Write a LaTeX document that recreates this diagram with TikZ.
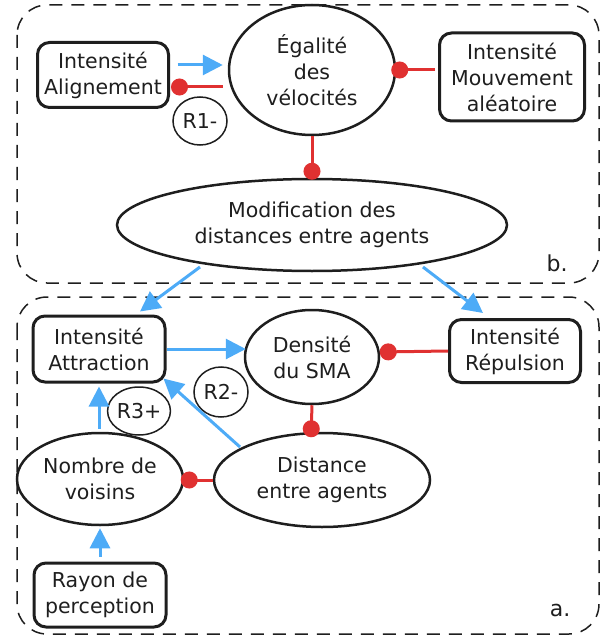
\documentclass[tikz,border=0pt]{standalone}
\usepackage{fontspec}
\setmainfont{DejaVu Sans}
\usetikzlibrary{shapes.geometric,arrows.meta,calc}
\definecolor{ink}{HTML}{1E1E1E}
\definecolor{cblue}{HTML}{4DABF7}
\definecolor{cred}{HTML}{E03131}
\begin{document}
\begin{tikzpicture}[x=1pt,y=-1pt,
 every node/.style={text=ink, font=\fontsize{20.5}{26}\selectfont, align=center, inner sep=0pt},
 rbox/.style={draw=ink, line width=3pt, rounded corners=12pt, rectangle},
 ell/.style={draw=ink, line width=2.5pt, ellipse},
 loopc/.style={draw=ink, line width=1.5pt, ellipse},
 barrow/.style={cblue, line width=3pt, -{Triangle[length=20pt,width=20pt]}},
 rdot/.style={cred, line width=3pt, -{Circle[length=17pt]}},
 frame/.style={draw=ink, line width=1.5pt, dash pattern=on 13pt off 9pt, rounded corners=30pt}]
\useasboundingbox (0,0) rectangle (608,639);

% frames
\draw[frame] (17,5) rectangle (599,283);
\draw[frame] (17,297) rectangle (599,634);
\node[font=\fontsize{22}{26}\selectfont] (lb) at (557,263) {b.};
\node[font=\fontsize{22}{26}\selectfont] (la) at (560,610) {a.};

% upper part
\node[rbox, minimum width=131pt, minimum height=65pt] (align) at (103,75) {Intensité\\Alignement};
\node[ell, minimum width=166pt, minimum height=130pt] (egal) at (312,70) {Égalité\\des\\vélocités};
\node[rbox, minimum width=145pt, minimum height=88pt] (mouv) at (512,77) {Intensité\\Mouvement\\aléatoire};
\node[loopc, minimum width=54pt, minimum height=48pt] (r1) at (200,121) {R1-};
\node[ell, minimum width=390pt, minimum height=92pt] (modif) at (312,225) {Modification des\\distances entre agents};

% lower part
\node[rbox, minimum width=132pt, minimum height=66pt] (attr) at (99,349) {Intensité\\Attraction};
\node[ell, minimum width=134pt, minimum height=94pt] (dens) at (312,357) {Densité\\du SMA};
\node[rbox, minimum width=131pt, minimum height=63pt] (rep) at (515,351) {Intensité\\Répulsion};
\node[loopc, minimum width=54pt, minimum height=50pt] (r2) at (221,392) {R2-};
\node[loopc, minimum width=54pt, minimum height=48pt] (r3) at (139,411) {R3+};
\node[ell, minimum width=166pt, minimum height=92pt] (nomb) at (100,479) {Nombre de\\voisins};
\node[ell, minimum width=216pt, minimum height=94pt] (dist) at (322,480) {Distance\\entre agents};
\node[rbox, minimum width=132pt, minimum height=64pt] (rayon) at (100,595) {Rayon de\\perception};

% connectors upper
\draw[barrow] ($(align.east)+(7.5,-10)$) -- ($(egal.west)+(-5,-5)$);
\draw[rdot] ($(egal.west)+(-5,17)$) -- ($(align.east)+(1,12)$);
\draw[rdot] ($(mouv.west)+(-3,-7)$) -- ($(egal.east)+(-5,0)$);
\draw[rdot] (egal.south) -- ($(modif.north)+(0,2)$);
\draw[barrow] ($(modif.center)+(-112,42)$) -- ($(attr.north)+(41,-3)$);
\draw[barrow] ($(modif.center)+(111,42)$) -- ($(rep.north)+(-32,-5)$);

% connectors lower
\draw[barrow] (attr.east) -- ($(dens.west)+(2,-8)$);
\draw[rdot] (rep.west) -- ($(dens.east)+(-0.5,-5)$);
\draw[rdot] (dens.south) -- ($(dist.north)+(-11,5.5)$);
\draw[rdot] (dist.west) -- ($(nomb.east)+(-3.5,1)$);
\draw[barrow] ($(nomb.north)+(-1,-3)$) -- ($(attr.south)+(0,3)$);
\draw[barrow] ($(dist.center)+(-82,-33)$) -- ($(attr.south east)+(-3,-5)$);
\draw[barrow] ($(rayon.north)+(0,-5)$) -- ($(nomb.south)+(0,2)$);
\end{tikzpicture}
\end{document}
